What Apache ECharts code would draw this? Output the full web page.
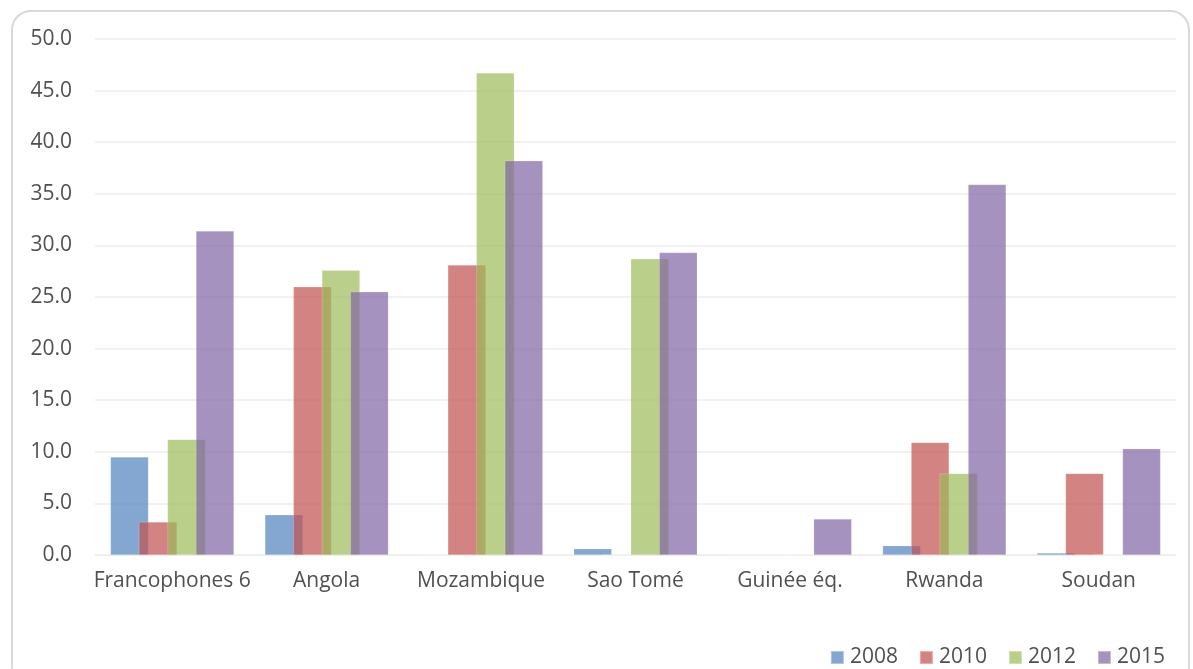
<!DOCTYPE html>
<html>
<head>
<meta charset="utf-8">
<script src="https://cdn.jsdelivr.net/npm/echarts@6/dist/echarts.min.js"></script>
<style>
  html, body { margin: 0; padding: 0; background: #fff; }
  #frame {
    position: absolute; left: 11px; top: 10px; width: 1179px; height: 676px;
    border: 2px solid #d9d9d9; border-radius: 20px; box-sizing: border-box;
  }
  #chart { position: absolute; left: 0; top: 0; width: 1193px; height: 669px; }
</style>
</head>
<body>
<div id="frame"></div>
<div id="chart"></div>
<script>
// Categories and yearly values
const categories = ['Francophones 6', 'Angola', 'Mozambique', 'Sao Tomé', 'Guinée éq.', 'Rwanda', 'Soudan'];
const years = ['2008', '2010', '2012', '2015'];
const values2008 = [9.5, 3.9, 0, 0.6, 0, 0.9, 0.2];
const values2010 = [3.2, 26.0, 28.1, 0, 0, 10.9, 7.9];
const values2012 = [11.2, 27.6, 46.7, 28.7, 0, 7.9, 0];
const values2015 = [31.4, 25.5, 38.2, 29.3, 3.5, 35.9, 10.3];
const yTicks = { min: 0, max: 50, interval: 5 };

const seriesValues = [values2008, values2010, values2012, values2015];
const colors = ['#4F81BD', '#C0504D', '#9BBB59', '#8064A2'];
const fontFamily = '"Open Sans", "DejaVu Sans", sans-serif';
const textColor = '#505050';

const chart = echarts.init(document.getElementById('chart'), null, { renderer: 'canvas' });

chart.setOption({
  animation: false,
  grid: { left: 95, right: 17, top: 39, bottom: 114, containLabel: false },
  legend: {
    right: 23, bottom: -4,
    itemWidth: 13, itemHeight: 13, itemGap: 21,
    icon: 'rect',
    textStyle: { fontFamily, fontSize: 21, color: textColor, padding: [0, 0, 0, 1] },
    data: years
  },
  xAxis: {
    type: 'category',
    data: categories,
    axisLine: { show: true, lineStyle: { color: '#ededed', width: 1 } },
    axisTick: { show: false },
    axisLabel: { interval: 0, fontFamily, fontSize: 21, color: textColor, margin: 16 }
  },
  yAxis: {
    type: 'value',
    min: yTicks.min, max: yTicks.max, interval: yTicks.interval,
    axisLine: { show: false },
    axisTick: { show: false },
    splitLine: { lineStyle: { color: '#ededed', width: 1.5 } },
    axisLabel: {
      fontFamily, fontSize: 21, color: textColor, margin: 23,
      formatter: v => v.toFixed(1)
    }
  },
  series: years.map((y, i) => ({
    name: y,
    type: 'bar',
    data: seriesValues[i],
    barWidth: 38,
    barGap: '-25%',
    itemStyle: {
      color: colors[i],
      opacity: 0.7,
      borderColor: 'rgba(255,255,255,0.5)',
      borderWidth: 0.5
    }
  }))
});
</script>
</body>
</html>
